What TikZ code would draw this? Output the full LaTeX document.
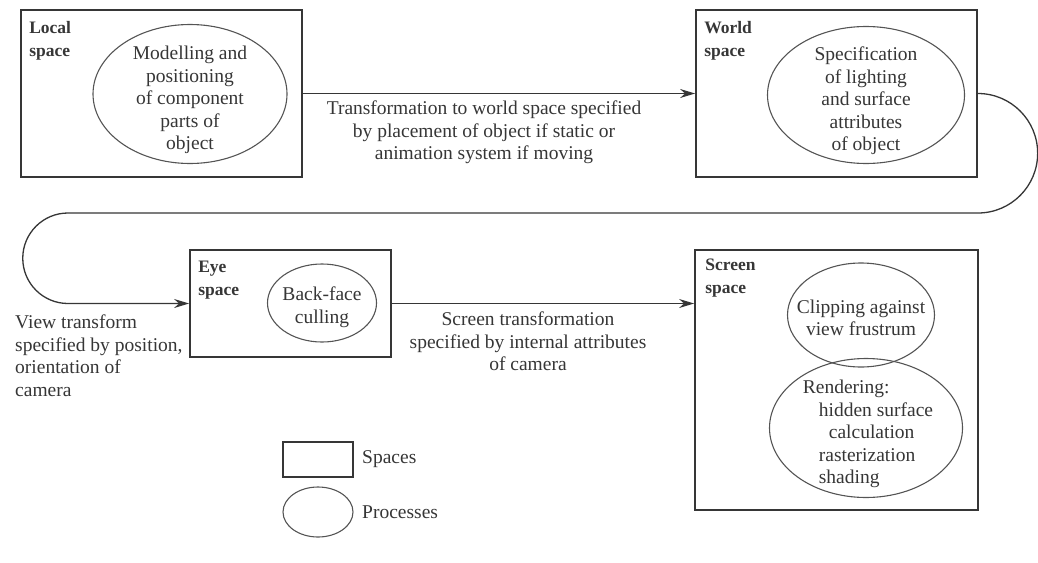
\documentclass[tikz,border=0pt]{standalone}
\usepackage{fontspec}
\setmainfont{Liberation Serif}
\usetikzlibrary{shapes.geometric,arrows.meta}
\definecolor{ink}{HTML}{363636}

\begin{document}
\begin{tikzpicture}[x=1pt,y=-1pt,
    space/.style={rectangle,draw=ink,line width=1.8pt,inner sep=0},
    process/.style={ellipse,draw=ink!85,line width=1.1pt,inner sep=0},
    proctext/.style={inner sep=0,align=center,text=ink,yshift=-6pt,font=\fontsize{19.5}{22.5}\selectfont},
    spacename/.style={anchor=north west,inner sep=0,align=left,text=ink,font=\fontsize{17.5}{23}\selectfont\bfseries},
    note/.style={inner sep=0,text=ink,font=\fontsize{19.5}{22.5}\selectfont},
    flow/.style={draw=ink,line width=1.3pt,-{Stealth[length=15pt,width=9pt,inset=5pt]}}]
    \useasboundingbox (0,0) rectangle (1038,562);

    \node[space,minimum width=281pt,minimum height=167pt](local) at (161.5,93.5){};
    \node[spacename] at ([shift={(9pt,-12pt)}]local.north west){Local\\space};
    \node[process,minimum width=194pt,minimum height=139pt,
        label={[proctext]center:{Modelling and\\positioning\\of component\\parts of\\object}}](model) at (190,94){};

    \node[space,minimum width=281pt,minimum height=167pt](world) at (836.5,93.5){};
    \node[spacename] at ([shift={(9pt,-12pt)}]world.north west){World\\space};
    \node[process,minimum width=197pt,minimum height=137pt,
        label={[proctext]center:{Specification\\of lighting\\and surface\\attributes\\of object}}](lighting) at (866,95){};

    \node[space,minimum width=201pt,minimum height=107pt](eye) at (290.5,303.5){};
    \node[spacename] at ([shift={(9pt,-12pt)}]eye.north west){Eye\\space};
    \node[process,minimum width=109pt,minimum height=78pt,
        label={[proctext,yshift=2pt]center:{Back-face\\culling}}](culling) at (322,303){};

    \node[space,minimum width=283pt,minimum height=260pt](screen) at (836.5,380){};
    \node[spacename] at ([shift={(11pt,-10pt)}]screen.north west){Screen\\space};
    \node[process,minimum width=147pt,minimum height=104pt,
        label={[proctext,yshift=3pt]center:{Clipping against\\view frustrum}}](clipping) at (861,315){};
    \node[process,minimum width=193pt,minimum height=139pt,
        label={[proctext,align=left,xshift=2pt]center:{Rendering:\\\hspace*{16pt}hidden surface\\\hspace*{26pt}calculation\\\hspace*{16pt}rasterization\\\hspace*{16pt}shading}}](rendering) at (866,428){};

    \node[note,anchor=north,align=center](worldnote) at (484,101){Transformation to world space specified\\by placement of object if static or\\animation system if moving};
    \node[note,anchor=north,align=center](screennote) at (528,312){Screen transformation\\specified by internal attributes\\of camera};
    \node[note,anchor=north west,align=left](viewnote) at (15,315){View transform\\specified by position,\\orientation of\\camera};

    \draw[flow] (local.east) -- (world.west);
    \draw[flow] (eye.east) -- (eye.east -| screen.west);
    \coordinate (turn) at (68,213);
    \draw[flow] (world.east) arc[start angle=90,end angle=-90,radius=59.75pt] -- (turn)
        arc[start angle=90,end angle=270,radius=45.25pt] -- (eye.west);

    \node[space,minimum width=70pt,minimum height=35pt](keyspace) at (318,459.5){};
    \node[process,minimum width=70pt,minimum height=50pt](keyprocess) at (318,512){};
    \node[note,anchor=west] at (362,459.5){Spaces};
    \node[note,anchor=west] at (362,512){Processes};
\end{tikzpicture}
\end{document}
